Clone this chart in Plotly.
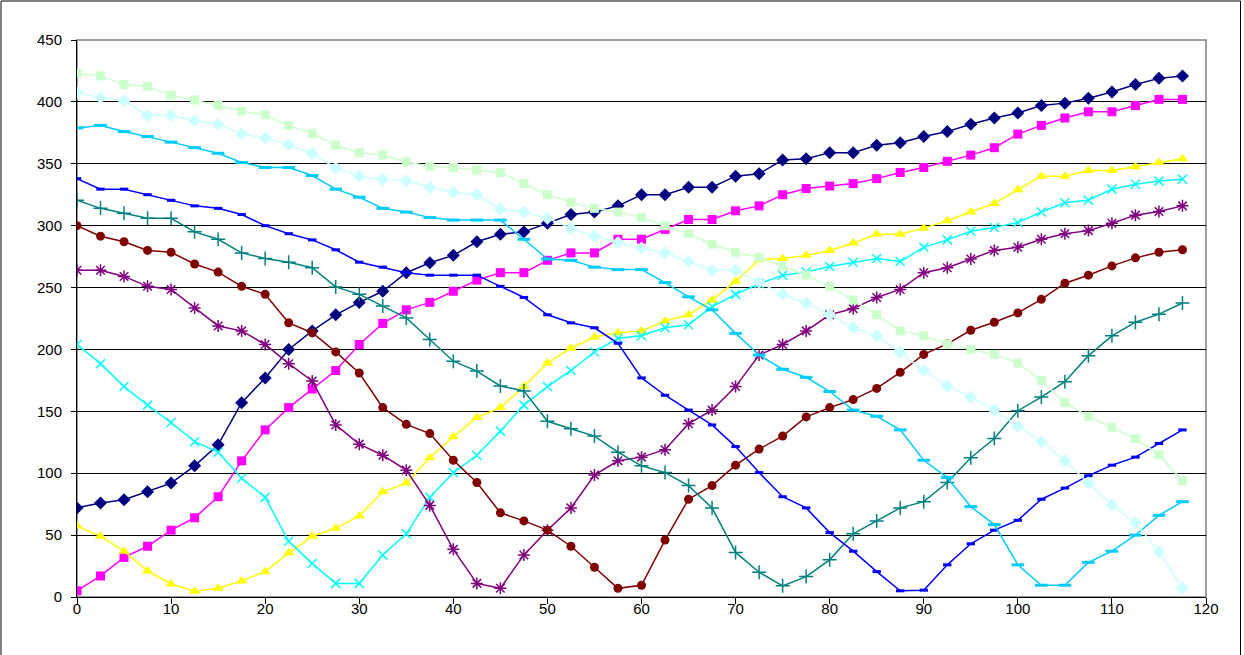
import plotly.graph_objects as go

x_values = [i * 2.5 for i in range(48)]

navy = [72, 76, 78.5, 85, 92, 106, 123, 157, 177, 200, 215, 228, 238, 247, 262, 270, 276, 287, 293, 295,
        302, 309, 311, 316, 325, 325, 331, 331, 340, 342, 353, 354, 359, 359, 365, 367, 372, 376, 382, 387,
        391, 397, 399, 403, 408, 414, 419, 421]
magenta = [5, 17, 32, 41, 54, 64, 81, 110, 135, 153, 168, 183, 204, 221, 232, 238, 247, 256, 262, 262,
           272, 278, 278, 289, 289, 297, 305, 305, 312, 316, 325, 330, 332, 334, 338, 343, 347, 352, 357, 363,
           374, 381, 387, 392, 392, 397, 402, 402]
yellow = [57.5, 49, 37, 21, 10.5, 4.6, 7, 13, 20.5, 35.5, 49, 55.5, 65.5, 85, 92, 112.5, 129.5, 145, 153, 170,
          189, 201, 210, 213.5, 215, 223, 228, 240, 255, 272.5, 273.5, 276, 280, 286, 293, 293, 298, 304, 311, 318,
          329, 340, 340, 344.5, 344.5, 347.5, 351, 354]
cyan = [204, 188.5, 170, 155, 141, 125.5, 117, 96, 80.5, 45, 27, 11, 11, 34, 51, 80.5, 100.5, 114.5, 134, 155,
        170, 183, 198, 209, 211, 217.5, 220, 234.5, 244.5, 253, 260, 262.5, 267, 270.5, 273.5, 271, 282.5, 288.5,
        295.5, 298.5, 302.5, 311, 318.5, 320.5, 329.5, 333.5, 336, 337.5]
purple = [264, 264, 259, 251, 248.5, 233.5, 219, 215, 204, 188.5, 174.5, 139, 123.5, 114.5, 102.5, 74, 38.5, 11, 7, 34,
          54, 72, 98.5, 110, 113, 119, 140, 151, 170, 195.5, 204, 215, 228, 233, 242, 248.5, 262, 266, 273, 280,
          282.5, 289, 293.5, 296, 302, 308.5, 311.5, 316]
maroon = [300, 291.5, 287, 280, 278.5, 269, 262.5, 251, 244.5, 221.5, 213.5, 198, 181, 153, 139.5, 132, 110.5, 92.5,
          68, 61.5, 54, 41, 24, 7, 9.5, 46, 79, 90, 106.5, 119.5, 130, 145.5, 153, 159.5, 168.5, 181.5, 196, 204.5,
          215.5, 222, 229.5, 240.5, 253.5, 260, 267.5, 274, 278.5, 280.5]
teal = [320.5, 314, 310, 306, 306, 295, 289, 278, 273.5, 270.5, 266, 250.5, 244.5, 235, 225.5, 208, 190.5, 182.5,
        170.5, 166.5, 142, 136, 130, 117, 106, 100.5, 90, 72, 36, 20, 9, 16.5, 30, 51, 61.5, 72, 77, 92.5, 112.5,
        128, 150.5, 161.5, 174, 195, 211, 222, 228.5, 237.5]
blue = [338, 329.5, 329.5, 325, 320.5, 316, 314, 309, 300, 293.5, 288.5, 280.5, 270.5, 266.5, 262, 260, 260, 260,
        251, 242, 228, 221.5, 217.5, 205, 177, 163, 151, 139, 121.5, 100.5, 81, 72, 52, 37, 20.5, 5, 5.5, 26, 43,
        54, 62, 79, 88, 98, 106.5, 113, 124, 135]
skyblue = [379, 381, 376, 372, 367.5, 363, 358.5, 351, 347, 347, 340.5, 329.5, 323, 314, 311, 306.5, 304.5, 304.5,
           304.5, 289, 273, 272, 266.5, 264.5, 264.5, 254, 242.5, 232, 213, 195.5, 184, 177.5, 166, 151, 146, 135,
           110.5, 96.5, 73, 58.5, 26, 9.5, 9.5, 28, 37, 50, 66, 77]
turquoise = [407.5, 403.5, 401, 389, 389, 385, 382, 374, 371, 365.5, 358.5, 346.5, 340, 337.5, 336, 331, 327, 325,
             313.5, 311, 306, 298, 291.5, 286.5, 282, 278, 271, 264, 264, 254, 244.5, 237.5, 228, 217.5, 211, 197.5,
             183, 170.5, 161.5, 151, 138, 125.5, 110, 92, 74.5, 60, 36.5, 7]
palegreen = [423, 421, 414, 412.5, 405.5, 401.5, 397, 392.5, 389.5, 381, 374.5, 365, 359, 357, 351.5, 348, 347, 345,
             343, 334, 325, 319, 314, 311, 306.5, 300, 293.5, 285, 278.5, 274.5, 267.5, 260, 251, 240, 228, 215, 211,
             204.5, 200, 196, 189, 175, 157, 146, 137, 128, 115, 94]

series = [
    ("Series1", navy, "#000080", "diamond", 10, None),
    ("Series2", magenta, "#FF00FF", "square", 9, None),
    ("Series3", yellow, "#FFFF00", "triangle-up", 10, None),
    ("Series4", cyan, "#00FFFF", "x-thin", 9, 1.5),
    ("Series5", purple, "#800080", "asterisk", 10, 1.5),
    ("Series6", maroon, "#800000", "circle", 9, None),
    ("Series7", teal, "#008080", "cross-thin", 10, 1.5),
    ("Series8", blue, "#0000FF", "line-ew", 6, 3),
    ("Series9", skyblue, "#00CCFF", "line-ew", 9, 3),
    ("Series10", turquoise, "#CCFFFF", "diamond", 10, None),
    ("Series11", palegreen, "#CCFFCC", "square", 9, None),
]

fig = go.Figure()
for name, vals, color, sym, size, lw in series:
    marker = dict(symbol=sym, size=size, color=color)
    if lw is not None:
        marker["line"] = dict(color=color, width=lw)
    else:
        marker["line"] = dict(width=0)
    fig.add_trace(go.Scatter(x=x_values, y=vals, mode="lines+markers", name=name,
                             line=dict(color=color, width=1.5), marker=marker))

L, T, R, B = 77, 40, 38, 58
W, H = 1244, 655
PW, PH = W - L - R, H - T - B

fig.update_layout(
    width=W, height=H,
    margin=dict(l=L, r=R, t=T, b=B),
    paper_bgcolor="white", plot_bgcolor="white",
    showlegend=False,
    font=dict(family="Liberation Sans, Arial, sans-serif", size=15, color="black"),
)
fig.update_xaxes(range=[0, 120], tick0=0, dtick=10, showgrid=False, zeroline=False,
                 showline=True, linecolor="black", linewidth=1, ticks="outside", ticklen=6,
                 tickcolor="black", ticklabelstandoff=-8)
fig.update_yaxes(range=[0, 450], tick0=0, dtick=50, showgrid=True, gridcolor="black", gridwidth=1,
                 zeroline=False, showline=True, linecolor="black", linewidth=1, ticks="outside",
                 ticklen=5, tickcolor="black", ticklabelstandoff=6)
# plot area border (grey)
fig.add_shape(type="rect", xref="paper", yref="paper", x0=0, y0=0, x1=1, y1=1,
              line=dict(color="#808080", width=1.5), layer="below")
# chart area border (black frame around the whole chart)
fig.add_shape(type="rect", xref="paper", yref="paper",
              x0=(1 - L) / PW, x1=(1240.5 - L) / PW,
              y0=-(H + 20 - T - PH) / PH, y1=(PH + T - 1) / PH,
              line=dict(color="black", width=1), layer="below")

fig.write_html("out.html", config={"displayModeBar": False},
               post_script="document.body.style.margin='0';")
